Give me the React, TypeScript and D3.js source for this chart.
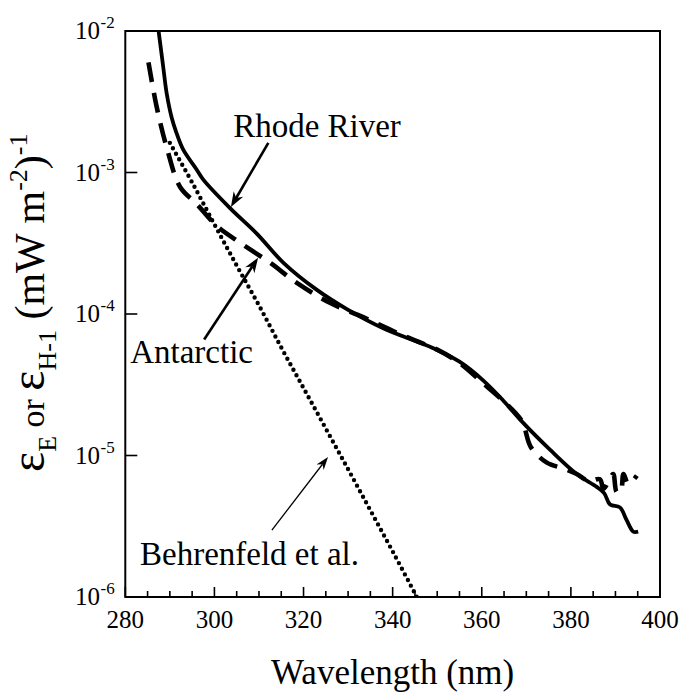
import React, { useEffect, useRef } from "react";
import * as d3 from "d3";

// ---- data ----
const rhodeWl = [287.3, 288.5, 289.3, 290.4, 291.5, 293, 296, 297.5, 303.5, 309.5, 315.5, 323, 330, 338, 349, 355, 360.3, 364.8, 369.3, 375.3, 381.3, 385.8, 387.5, 388.8, 391, 392.5, 394, 395.1];
const rhodeVal = [1.1e-2, 5.6e-3, 3.6e-3, 2.45e-3, 1.9e-3, 1.45e-3, 1.05e-3, 8.9e-4, 5.6e-4, 3.7e-4, 2.3e-4, 1.48e-4, 1.07e-4, 7.9e-5, 5.75e-5, 4.6e-5, 3.4e-5, 2.45e-5, 1.7e-5, 1.1e-5, 7.4e-6, 6.0e-6, 5.4e-6, 4.5e-6, 4.3e-6, 3.5e-6, 2.9e-6, 2.9e-6];

const antWl = [285.2, 287, 289.3, 292.3, 296, 300.5, 305.7, 312.5, 318.5, 325.9, 333.4, 340, 345, 350, 355, 360, 365, 369, 371, 374.6, 378.3, 381.3, 384, 386.5, 387.3, 388.4, 389.5, 390.3, 391.2, 391.8, 392.9, 394.8];
const antVal = [6.0e-3, 2.95e-3, 1.5e-3, 7.9e-4, 6.0e-4, 4.2e-4, 3.2e-4, 2.3e-4, 1.66e-4, 1.2e-4, 9.5e-5, 7.6e-5, 6.5e-5, 5.6e-5, 4.5e-5, 3.3e-5, 2.4e-5, 1.75e-5, 1.15e-5, 8.9e-6, 8.1e-6, 7.4e-6, 6.6e-6, 6.8e-6, 5.8e-6, 6.5e-6, 7.4e-6, 5.5e-6, 5.6e-6, 7.4e-6, 6.3e-6, 7.2e-6];

const behWl = [290, 295, 300, 305, 310, 315, 320, 325, 330, 335, 340, 345, 347];
const behVal = [1.62e-3, 8.5e-4, 4.3e-4, 2.2e-4, 1.15e-4, 5.8e-5, 3.0e-5, 1.55e-5, 8.0e-6, 4.1e-6, 2.1e-6, 1.06e-6, 8.0e-7];

const xTicksMajor = [280, 300, 320, 340, 360, 380, 400];
const xTicksMinor = [285, 290, 295, 305, 310, 315, 325, 330, 335, 345, 350, 355, 365, 370, 375, 385, 390, 395];
const yTickExps = [-2, -3, -4, -5, -6];

const annLabels = ["Rhode River", "Antarctic", "Behrenfeld et al."];
const annText = [[304.2, 1.78e-3], [281.1, 4.5e-5], [283.3, 1.68e-6]];
const annFrom = [[312.1, 1.62e-3], [297.7, 6.6e-5], [312.9, 2.97e-6]];
const annTip = [[303.7, 5.7e-4], [309.8, 2.5e-4], [325.5, 9.75e-6]];
const annWidth = [2.6, 2.6, 1.3];

const W = 682, H = 693;
const L = 125.3, R = 660, T = 31, B = 597;
const FS = { fontFamily: '"Liberation Serif"' };

function Arrow({ x1, y1, x2, y2, w }: { x1: number; y1: number; x2: number; y2: number; w: number }) {
  const ang = Math.atan2(y2 - y1, x2 - x1);
  const len = w > 2 ? 15 : 13;
  const half = w > 2 ? 5.5 : 4.5;
  const bx = x2 - len * Math.cos(ang);
  const by = y2 - len * Math.sin(ang);
  const px = -Math.sin(ang), py = Math.cos(ang);
  const mx = x2 - len * 0.7 * Math.cos(ang);
  const my = y2 - len * 0.7 * Math.sin(ang);
  return (
    <g>
      <line x1={x1} y1={y1} x2={mx} y2={my} stroke="#000" strokeWidth={w} />
      <polygon points={`${x2},${y2} ${bx + px * half},${by + py * half} ${mx},${my} ${bx - px * half},${by - py * half}`} fill="#000" />
    </g>
  );
}

export default function App() {
  const svgRef = useRef<SVGSVGElement | null>(null);
  useEffect(() => {
    if (!svgRef.current) return;
    d3.select(svgRef.current)
      .selectAll<SVGTextElement, unknown>("text, tspan")
      .each(function () {
        this.style.setProperty("font-family", '"Liberation Serif"', "important");
      });
  }, []);

  const x = d3.scaleLinear().domain([280, 400]).range([L, R]);
  const y = d3.scaleLog().domain([1e-6, 1e-2]).range([B, T]);
  const line = d3.line<[number, number]>().x((d) => x(d[0])).y((d) => y(d[1])).curve(d3.curveCatmullRom.alpha(0.5));
  const rhode = rhodeWl.map((w, i) => [w, rhodeVal[i]] as [number, number]);
  const ant = antWl.map((w, i) => [w, antVal[i]] as [number, number]);
  const beh = behWl.map((w, i) => [w, behVal[i]] as [number, number]);

  return (
    <svg ref={svgRef} width={W} height={H} style={{ position: "absolute", left: 0, top: 0 }}>
      <style>{`#root svg text, #root svg tspan { font-family: "Liberation Serif" !important; }`}</style>
      <defs>
        <clipPath id="plotclip">
          <rect x={L} y={T} width={R - L} height={B - T} />
        </clipPath>
      </defs>
      <rect x={0} y={0} width={W} height={H} fill="#fff" />
      <g clipPath="url(#plotclip)" fill="none" stroke="#000">
        <path d={line(beh) || ""} strokeWidth={4.4} strokeDasharray="0 6.3" strokeLinecap="round" />
        <path d={line(ant) || ""} strokeWidth={4.6} strokeDasharray="20 11" />
        <path d={line(rhode) || ""} strokeWidth={3.8} strokeLinejoin="round" />
      </g>
      <rect x={L} y={T} width={R - L} height={B - T} fill="none" stroke="#000" strokeWidth={2} />
      {xTicksMajor.map((t) => (
        <line key={"xm" + t} x1={x(t)} x2={x(t)} y1={B} y2={B - 10} stroke="#000" strokeWidth={1.6} />
      ))}
      {xTicksMinor.map((t) => (
        <line key={"xn" + t} x1={x(t)} x2={x(t)} y1={B} y2={B - 6} stroke="#000" strokeWidth={1.6} />
      ))}
      {yTickExps.map((e) => (
        <line key={"yt" + e} x1={L} x2={L + 12} y1={y(Math.pow(10, e))} y2={y(Math.pow(10, e))} stroke="#000" strokeWidth={1.6} />
      ))}
      {xTicksMajor.map((t) => (
        <text key={"xl" + t} x={x(t)} y={628} fontSize={25} textAnchor="middle" style={FS}>{t}</text>
      ))}
      {yTickExps.map((e) => (
        <text key={"yl" + e} x={100} y={y(Math.pow(10, e)) + 8} fontSize={25} textAnchor="end" style={FS}>10</text>
      ))}
      {yTickExps.map((e) => (
        <text key={"ys" + e} x={100.5} y={y(Math.pow(10, e)) - 3} fontSize={17} style={FS}>{"-" + Math.abs(e)}</text>
      ))}
      <text x={(L + R) / 2} y={684} fontSize={35} textAnchor="middle" style={FS}>Wavelength (nm)</text>
      <text transform="translate(44,472) rotate(-90)" fontSize={42} style={FS}>
        <tspan fontSize={48}>ε</tspan>
        <tspan fontSize={26} dy={12}>E</tspan>
        <tspan fontSize={34} dy={-12}> or </tspan>
        <tspan fontSize={48}>ε</tspan>
        <tspan fontSize={26} dy={12}>H-1</tspan>
        <tspan fontSize={42} dy={-12}> (mW m</tspan>
        <tspan fontSize={26} dy={-17}>-2</tspan>
        <tspan fontSize={42} dy={17}>)</tspan>
        <tspan fontSize={26} dy={-17}>-1</tspan>
      </text>
      {annLabels.map((lab, i) => (
        <text key={"at" + lab} x={x(annText[i][0])} y={y(annText[i][1])} fontSize={33} style={FS}>{lab}</text>
      ))}
      {annLabels.map((lab, i) => (
        <Arrow key={"ar" + lab} x1={x(annFrom[i][0])} y1={y(annFrom[i][1])} x2={x(annTip[i][0])} y2={y(annTip[i][1])} w={annWidth[i]} />
      ))}
    </svg>
  );
}
